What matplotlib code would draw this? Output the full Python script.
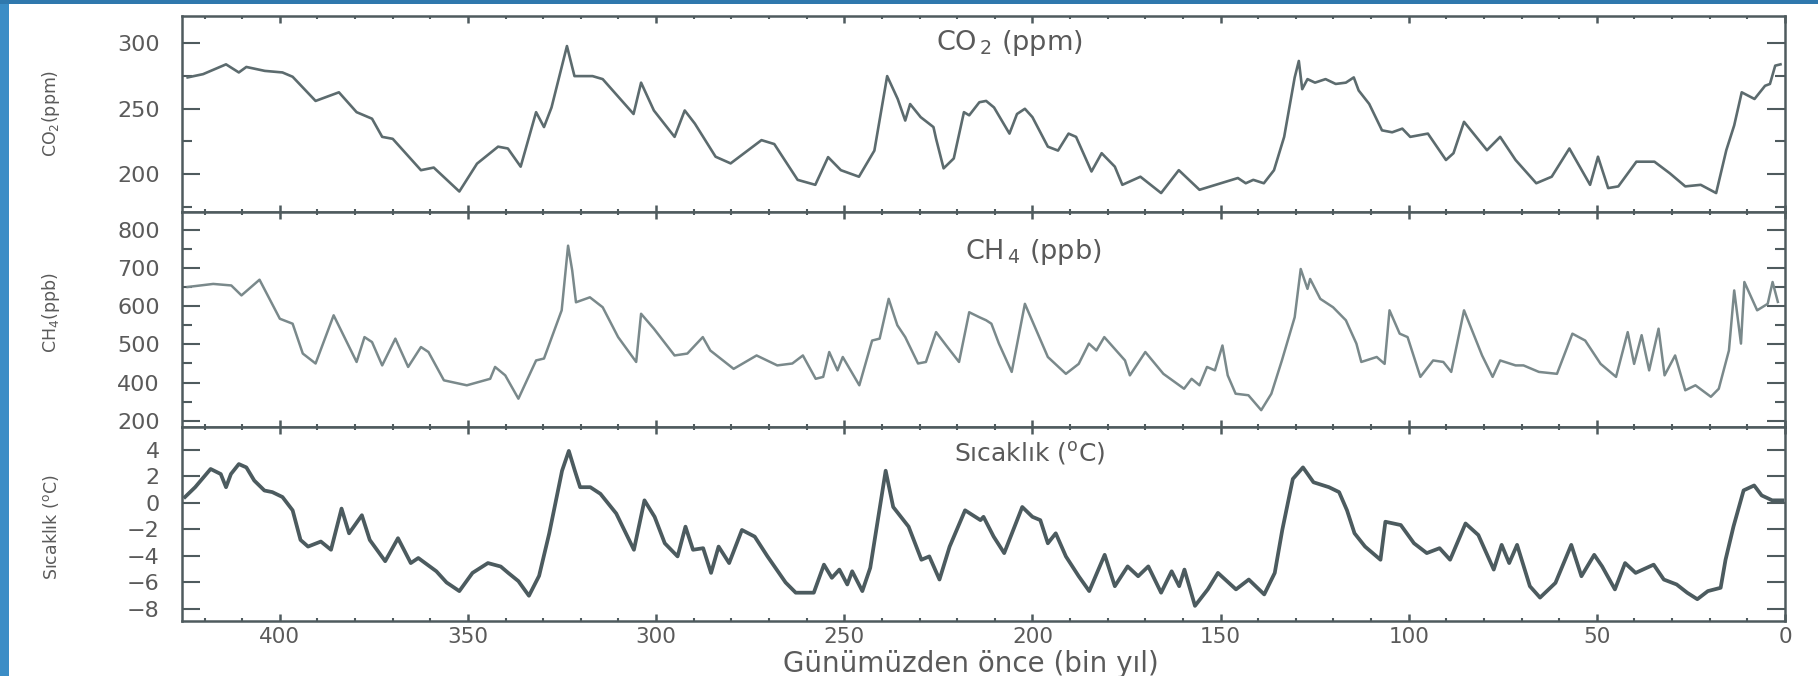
import numpy as np
import matplotlib.pyplot as plt
from matplotlib.ticker import MultipleLocator
from matplotlib.patches import Rectangle

# Vostok: CO2, CH4 ve sicaklik (bin yil once)
yas_co2 = [424.5, 420.4, 414.3, 410.9, 408.9, 404, 399.3, 396.6, 390.5, 384.3,
           379.6, 375.5, 372.8, 370, 362.5, 359.1, 352.3, 347.6, 342, 339.4,
           336, 331.9, 329.8, 327.8, 323.7, 321.7, 316.9, 314.2, 306, 304,
           300.6, 295.1, 292.4, 289.7, 284.2, 280.2, 272, 268.6, 262.4, 257.7,
           254.3, 250.9, 246.1, 242, 238.6, 235.8, 233.8, 232.5, 229.7, 226.3,
           225.6, 223.6, 220.9, 218.2, 216.8, 214.1,
           212.3, 210.2, 206.1, 204.1, 202, 200, 195.9, 193.2, 190.4, 188.4,
           184.3, 181.6, 178.1, 176.1, 171.3, 165.8, 161.1, 155.6, 145.4, 143.3,
           141.3, 138.5, 135.8, 133.1, 130.3, 129.2, 128.3, 126.9, 124.9, 122.1,
           119.4, 116.7, 114.6, 113.3, 110.5, 107.1, 104.4, 101.7, 99.6, 94.9,
           90.1, 88.1, 85.3, 79.2, 75.7, 71.6, 66.1, 62.0, 57.3, 51.8,
           49.7, 47.0, 44.3, 39.5, 34.7, 30.6, 26.5, 22.4, 18.3, 15.6,
           13.5, 11.5, 8.1, 5.3, 4.0, 2.6, 1.2]
co2 = [274, 276.5, 284, 277.8, 282, 279, 277.8, 274.5, 256, 262.6,
       247.4, 242.4, 228.5, 227, 203, 205, 186.7, 208, 221, 219.6,
       205.7, 247.4, 236, 251, 298, 275, 275, 272.7, 246, 270,
       248.7, 228.5, 248.7, 238.6, 213.3, 208.2, 226, 223, 195.6, 191.8,
       213, 203, 198, 218, 275, 257.5, 241, 253.6, 243.6, 236,
       227, 204.4, 212, 247.4, 245, 255,
       256, 251, 231, 246, 250, 243.6, 221, 218, 231, 228.5,
       202, 216, 205.7, 191.8, 198, 185.5, 203, 188, 197, 193,
       195.6, 193, 203, 228.5, 274, 286.6, 265, 272.7, 270, 272.7,
       269, 270, 274, 264, 253.7, 233.5, 232, 234.8, 228.5, 231,
       210.8, 216, 240, 218.3, 228.5, 210.8, 193, 198, 219.6, 191.8,
       213.3, 189.3, 190.6, 209.5, 209.5, 200.6, 190.6, 191.8, 185.5, 218.3,
       237.3, 262.6, 257.5, 267.6, 269, 283, 284]

yas_ch4 = [424.5, 417.7, 412.9, 410.2, 405.4, 400, 396.6, 393.9, 390.5, 385.7,
           379.6, 377.5, 375.5, 372.8, 369.3, 365.9, 362.5, 360.5, 356.4, 350.3,
           344.1, 342.8, 340.1, 336.6, 331.9, 329.8, 325.1, 323.4, 322.3, 321.3,
           317.6, 314.2, 310.1, 305.3, 304, 300.6, 295.1, 291.7, 287.6, 285.6,
           279.4, 273.3, 267.8, 263.8, 261, 257.6, 255.6, 254, 251.8, 250.4,
           246, 242.6, 240.6, 238.2, 235.9, 233.8, 230.4, 228.3, 225.6, 222.9,
           219.5, 216.8, 214.1,
           212.3, 210.9, 208.9, 205.5, 202, 195.9, 191.1, 187.7, 185, 183,
           180.9, 175.4, 174.1, 170, 165.2, 159.7, 157.7, 155.6, 153.6, 151.5,
           149.5, 148.1, 146, 142.6, 139.2, 136.5, 133.7, 130.3, 128.7, 126.9,
           126.2, 123.5, 120.1, 116.7, 113.9, 112.6, 108.5, 106.4, 105.1, 102.4,
           100.3, 96.9, 93.5, 90.8, 88.7, 85.3, 80.5, 77.7, 75.7, 71.6,
           69.5, 65.4, 60.6, 56.5, 53.1, 49, 44.9, 41.8, 40.1, 38.1,
           36.1, 33.6, 32, 29.2, 26.5, 23.8, 19.7, 17.6, 14.9, 13.5,
           11.7, 10.8, 7.4, 4.6, 3.3, 1.9]
ch4 = [650, 658, 654, 628, 669, 567, 554, 476, 450, 576,
       454, 519, 506, 445, 515, 441, 493, 480, 406, 393,
       410, 441, 419, 358, 458, 463, 589, 758, 693, 610,
       623, 597, 519, 454, 580, 541, 471, 476, 519, 484,
       436, 471, 445, 450, 471, 410, 415, 480, 432, 467,
       393, 510, 515, 619, 550, 519, 450, 454, 532, 497,
       454, 584, 571,
       563, 554, 502, 428, 606, 467, 423, 449, 502, 484,
       519, 458, 419, 480, 423, 384, 410, 393, 441, 432,
       497, 419, 371, 367, 328, 371, 458, 571, 697, 645,
       671, 619, 597, 563, 502, 454, 467, 449, 589, 528,
       519, 415, 458, 454, 428, 589, 471, 415, 458, 445,
       445, 428, 423, 528, 510, 449, 415, 532, 449, 524,
       432, 541, 419, 471, 380, 393, 363, 384, 484, 641,
       502, 663, 589, 606, 663, 611]

yas_t = [425.2, 422.5, 418.4, 415.7, 414.3, 413, 410.9, 408.9, 406.8, 404.1,
         402, 399.3, 396.6, 394.5, 392.5, 389.1, 386.4, 383.6, 381.6, 378.2,
         376.1, 372, 368.6, 365.2, 363.2, 358.4, 355.7, 352.3, 348.8, 344.7,
         341.3, 339.3, 336.6, 333.8, 331.1, 328.4, 325, 323.2, 321.6, 320.2,
         317.5, 314.8, 310.6, 305.9, 303.1, 300.4, 297.7, 294.3, 292.2, 290.2,
         287.5, 285.4, 283.4, 280.6, 277.2, 273.8, 270.4, 265.6, 262.9, 258.1,
         255.4, 253.3, 251.3, 249.2, 247.9, 245.2, 243.1, 241.1, 239, 237,
         232.9, 229.5, 227.4, 224.7, 222, 217.9, 213.8,
         213, 210.3, 207.5, 202.7, 200, 197.9, 195.9, 193.8, 191.1, 187.7,
         184.9, 180.8, 178.1, 174.7, 171.9, 169.2, 165.8, 163, 161, 159.6,
         156.8, 153.4, 150.7, 145.9, 142.5, 138.4, 135.6, 133.6, 130.8, 128.1,
         125.3, 121.2, 118.5, 116.4, 114.4, 111.6, 107.5, 106.2, 102.1, 98.6,
         95.2, 91.8, 89, 84.9, 81.5, 77.4, 75.3, 73.3, 71.2, 67.8,
         65.1, 61, 56.8, 54.1, 50.7, 48.6, 45.2, 42.5, 39.7, 34.9,
         32.2, 28.8, 26, 23.3, 20.5, 17.1, 15.8, 13.7, 11, 8.2,
         6.2, 3.4, 0.7]
sicaklik = [0.43, 1.17, 2.54, 2.16, 1.17, 2.16, 2.91, 2.66, 1.67, 0.92,
            0.8, 0.43, -0.57, -2.8, -3.3, -2.92, -3.54, -0.44, -2.3, -0.94,
            -2.8, -4.4, -2.67, -4.54, -4.16, -5.16, -6.0, -6.65, -5.28, -4.54,
            -4.8, -5.28, -5.9, -7.0, -5.5, -2.3, 2.41, 3.9, 2.41, 1.17,
            1.17, 0.67, -0.81, -3.54, 0.18, -1.06, -3.05, -4.04, -1.8, -3.54,
            -3.42, -5.28, -3.3, -4.54, -2.05, -2.55, -4.04, -6.0, -6.77, -6.77,
            -4.66, -5.65, -5.03, -6.15, -5.16, -6.65, -4.9, -1.31, 2.41, -0.32,
            -1.8, -4.29, -4.04, -5.78, -3.3, -0.57, -1.31,
            -1.06, -2.55, -3.79, -0.32, -1.06, -1.31, -3.05, -2.3, -4.04, -5.53,
            -6.65, -3.92, -6.28, -4.79, -5.53, -4.79, -6.77, -5.16, -6.28, -5.03,
            -7.76, -6.52, -5.28, -6.52, -5.78, -6.9, -5.28, -2.05, 1.79, 2.66,
            1.54, 1.17, 0.8, -0.57, -2.3, -3.3, -4.29, -1.43, -1.68, -3.05,
            -3.79, -3.42, -4.29, -1.56, -2.43, -5.03, -3.17, -4.54, -3.17, -6.28,
            -7.14, -6.03, -3.17, -5.53, -3.92, -4.79, -6.52, -4.54, -5.28, -4.66,
            -5.78, -6.15, -6.77, -7.26, -6.65, -6.4, -4.29, -1.8, 0.93, 1.3,
            0.55, 0.18, 0.18]

ch4_ticks = [300, 400, 500, 600, 700, 800]
ch4_ticklabels = ['200', '400', '500', '600', '700', '800']

W, H = 1818., 676.
spine_c = '#4f5b5e'
text_c = '#5a5a5a'

fig = plt.figure(figsize=(W / 100, H / 100), dpi=100)
fig.patch.set_facecolor('white')
# mavi cerceve (slayt kenari)
fig.patches.append(Rectangle((0, 0), 9 / W, 1, transform=fig.transFigure,
                             facecolor='#3b8dc6', edgecolor='none'))
fig.patches.append(Rectangle((0, 1 - 4 / H), 1, 4 / H, transform=fig.transFigure,
                             facecolor='#2f78ad', edgecolor='none'))

x0, x1 = 182 / W, 1785 / W


def panel(top, bottom, sharex=None):
    return fig.add_axes([x0, 1 - bottom / H, x1 - x0, (bottom - top) / H], sharex=sharex)


ax1 = panel(16, 212)
ax2 = panel(212, 427, sharex=ax1)
ax3 = panel(427, 621, sharex=ax1)

ax1.plot(yas_co2, co2, color='#5c6b6e', lw=1.9)
ax2.plot(yas_ch4, ch4, color='#7a898b', lw=1.8)
ax3.plot(yas_t, sicaklik, color='#4c5b5f', lw=2.7)

ax1.set_xlim(426, 0)
ax1.set_ylim(171, 321)
ax2.set_ylim(284, 846)
ax3.set_ylim(-8.9, 5.7)

ax1.yaxis.set_major_locator(MultipleLocator(50))
ax1.yaxis.set_minor_locator(MultipleLocator(25))
ax2.set_yticks(ch4_ticks)
ax2.set_yticklabels(ch4_ticklabels)
ax2.yaxis.set_minor_locator(MultipleLocator(50))
ax3.yaxis.set_major_locator(MultipleLocator(2))

for ax in [ax1, ax2, ax3]:
    ax.xaxis.set_major_locator(MultipleLocator(50))
    ax.xaxis.set_minor_locator(MultipleLocator(10))
    for s in ax.spines.values():
        s.set_color(spine_c)
        s.set_linewidth(1.8)
    ax.tick_params(axis='both', which='both', direction='in', top=True, right=True,
                   color=spine_c, labelcolor=text_c)
    ax.tick_params(axis='x', which='major', length=5, width=1.8, labelsize=15.5, pad=4)
    ax.tick_params(axis='x', which='minor', length=2.5, width=1.5)
    ax.tick_params(axis='y', which='major', length=13, width=1.5, labelsize=16, pad=16)
    ax.tick_params(axis='y', which='minor', length=7, width=1.5)

ax1.tick_params(axis='x', labelbottom=False)
ax2.tick_params(axis='x', labelbottom=False)

# panel basliklari
ax1.text(0.516, 0.862, 'CO$_{\\,2}$ (ppm)', transform=ax1.transAxes, ha='center', va='center',
         fontsize=19.5, color=text_c)
ax2.text(0.531, 0.814, 'CH$_{\\,4}$ (ppb)', transform=ax2.transAxes, ha='center', va='center',
         fontsize=19.5, color=text_c)
ax3.text(0.529, 0.861, 'Sıcaklık ($^{\\mathrm{o}}$C)', transform=ax3.transAxes, ha='center',
         va='center', fontsize=18, color=text_c)

# eksen etiketleri
yl = dict(rotation=90, ha='center', va='center', fontsize=12.5, color=text_c)
fig.text(51 / W, 1 - 113 / H, 'CO$_2$(ppm)', **yl)
fig.text(51 / W, 1 - 313 / H, 'CH$_4$(ppb)', **yl)
fig.text(51 / W, 1 - 527 / H, 'Sıcaklık ($^{\\mathrm{o}}$C)', **yl)
fig.text(971 / W, 1 - 664 / H, 'Günümüzden önce (bin yıl)', ha='center', va='center',
         fontsize=20, color=text_c)

plt.savefig('out.png', dpi=100)
